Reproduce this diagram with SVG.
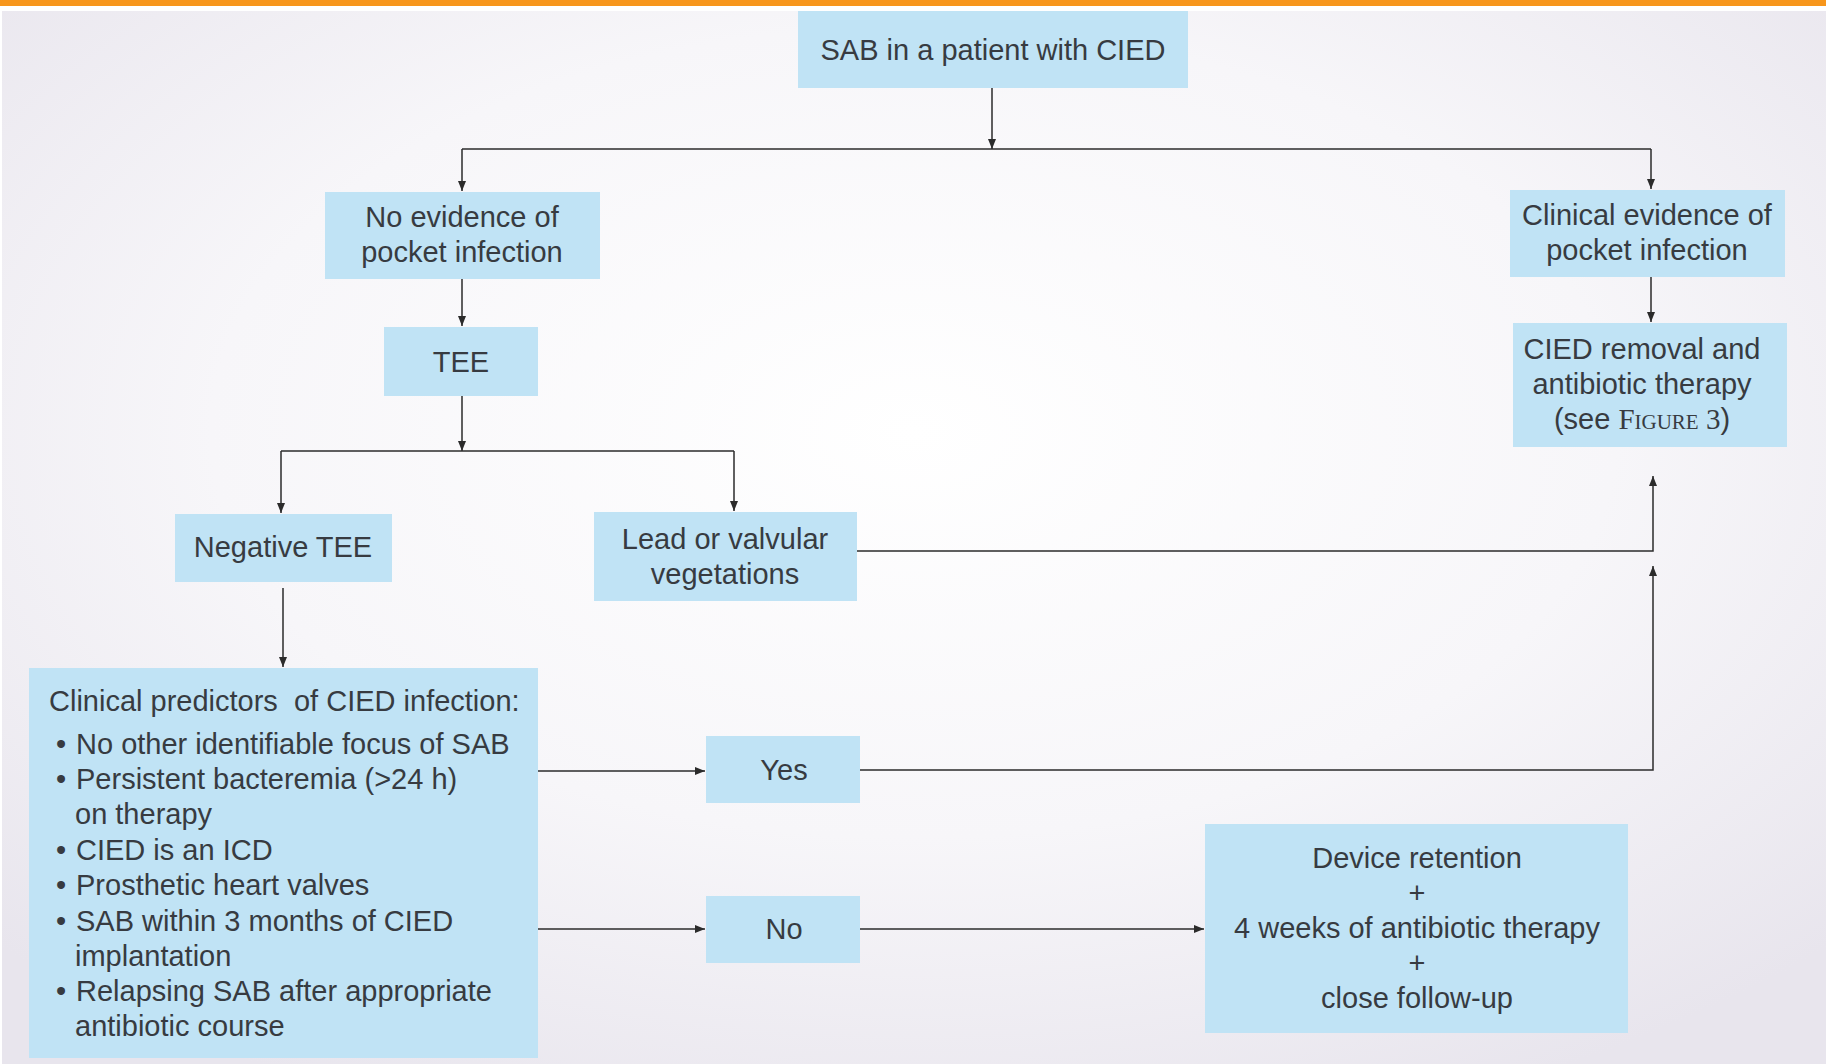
<svg xmlns="http://www.w3.org/2000/svg" width="1826" height="1064" viewBox="0 0 1826 1064">
<defs>
<radialGradient id="bg" cx="50%" cy="40%" r="70%">
<stop offset="0" stop-color="#ffffff"/>
<stop offset="0.55" stop-color="#f7f6f9"/>
<stop offset="1" stop-color="#e8e5ed"/>
</radialGradient>
<marker id="ah" markerUnits="userSpaceOnUse" markerWidth="11" markerHeight="8" refX="10" refY="4" orient="auto">
<path d="M0,0 L10,4 L0,8 z" fill="#2b2b2b"/>
</marker>
</defs>
<style>
.box{fill:#c0e3f5}
.t{font-family:"Liberation Sans",Arial,sans-serif;font-size:29px;fill:#373b41}
.c{text-anchor:middle}
.ln{fill:none;stroke:#2b2b2b;stroke-width:1.5}
.ar{fill:none;stroke:#2b2b2b;stroke-width:1.5;marker-end:url(#ah)}
</style>
<rect x="0" y="0" width="1826" height="1064" fill="#ffffff"/>
<rect x="2" y="11" width="1824" height="1053" fill="url(#bg)"/>
<rect x="0" y="0" width="1826" height="6" fill="#f7961c"/>

<g id="connectors">
<path class="ar" d="M992 88 V149"/>
<path class="ln" d="M462 149 H1651"/>
<path class="ar" d="M462 149 V191"/>
<path class="ar" d="M1651 149 V189"/>
<path class="ar" d="M462 279 V326"/>
<path class="ar" d="M462 396 V451"/>
<path class="ln" d="M281 451 H734"/>
<path class="ar" d="M281 451 V513"/>
<path class="ar" d="M734 451 V511"/>
<path class="ar" d="M1651 277 V322"/>
<path class="ar" d="M283 588 V667"/>
<path class="ar" d="M857 551 H1653 V476"/>
<path class="ar" d="M530 771 H705"/>
<path class="ar" d="M859 770 H1653 V566"/>
<path class="ar" d="M530 929 H705"/>
<path class="ar" d="M859 929 H1204"/>
</g>

<g id="n-start">
<rect class="box" x="798" y="11" width="390" height="77"/>
<text class="t c" x="993" y="60">SAB in a patient with CIED</text>
</g>

<g id="n-noevidence">
<rect class="box" x="325" y="192" width="275" height="87"/>
<text class="t c" x="462" y="227">No evidence of</text>
<text class="t c" x="462" y="262">pocket infection</text>
</g>

<g id="n-tee">
<rect class="box" x="384" y="327" width="154" height="69"/>
<text class="t c" x="461" y="372">TEE</text>
</g>

<g id="n-negtee">
<rect class="box" x="175" y="514" width="217" height="68"/>
<text class="t c" x="283" y="557">Negative TEE</text>
</g>

<g id="n-lead">
<rect class="box" x="594" y="512" width="263" height="89"/>
<text class="t c" x="725" y="549">Lead or valvular</text>
<text class="t c" x="725" y="584">vegetations</text>
</g>

<g id="n-clinical">
<rect class="box" x="1510" y="190" width="275" height="87"/>
<text class="t c" x="1647" y="225">Clinical evidence of</text>
<text class="t c" x="1647" y="260">pocket infection</text>
</g>

<g id="n-removal">
<rect class="box" x="1513" y="323" width="274" height="124"/>
<text class="t c" x="1642" y="359">CIED removal and</text>
<text class="t c" x="1642" y="394">antibiotic therapy</text>
<text class="t c" x="1642" y="429">(see <tspan font-family="'Liberation Serif',serif">F<tspan font-size="21">IGURE</tspan> 3</tspan>)</text>
</g>

<g id="n-predictors">
<rect class="box" x="29" y="668" width="509" height="390"/>
<text class="t" x="49" y="711" style="white-space:pre">Clinical predictors  of CIED infection:</text>
<text class="t" x="56" y="754">•</text><text class="t" x="76" y="754">No other identifiable focus of SAB</text>
<text class="t" x="56" y="789">•</text><text class="t" x="76" y="789">Persistent bacteremia (&gt;24 h)</text>
<text class="t" x="75" y="824">on therapy</text>
<text class="t" x="56" y="860">•</text><text class="t" x="76" y="860">CIED is an ICD</text>
<text class="t" x="56" y="895">•</text><text class="t" x="76" y="895">Prosthetic heart valves</text>
<text class="t" x="56" y="931">•</text><text class="t" x="76" y="931">SAB within 3 months of CIED</text>
<text class="t" x="75" y="966">implantation</text>
<text class="t" x="56" y="1001">•</text><text class="t" x="76" y="1001">Relapsing SAB after appropriate</text>
<text class="t" x="75" y="1036">antibiotic course</text>
</g>

<g id="n-yes">
<rect class="box" x="706" y="736" width="154" height="67"/>
<text class="t c" x="784" y="780">Yes</text>
</g>

<g id="n-no">
<rect class="box" x="706" y="896" width="154" height="67"/>
<text class="t c" x="784" y="939">No</text>
</g>

<g id="n-retention">
<rect class="box" x="1205" y="824" width="423" height="209"/>
<text class="t c" x="1417" y="868">Device retention</text>
<text class="t c" x="1417" y="903">+</text>
<text class="t c" x="1417" y="938">4 weeks of antibiotic therapy</text>
<text class="t c" x="1417" y="973">+</text>
<text class="t c" x="1417" y="1008">close follow-up</text>
</g>
</svg>
